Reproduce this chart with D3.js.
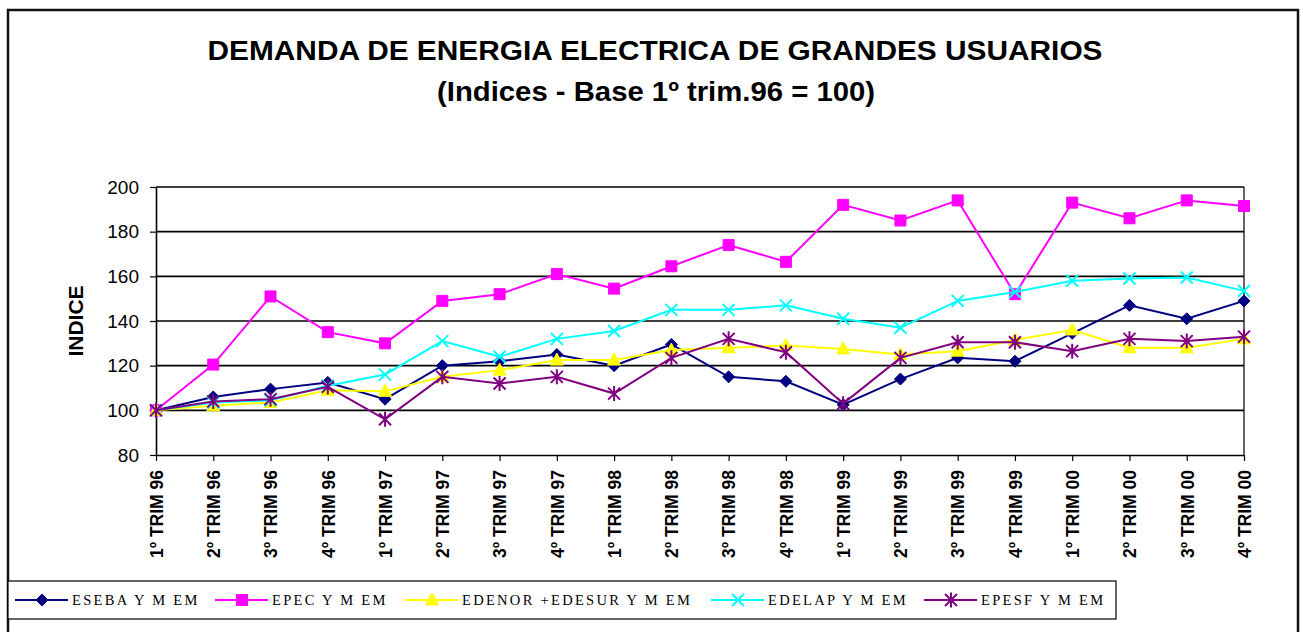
<!DOCTYPE html>
<html>
<head>
<meta charset="utf-8">
<script src="https://cdn.jsdelivr.net/npm/d3@7"></script>
<style>
  html, body { margin: 0; padding: 0; background: #fff; }
  svg { display: block; }
</style>
</head>
<body>
<svg id="chart" width="1303" height="632"></svg>
<script>
// ---- Data ----
const categories = [
  "1º TRIM 96", "2º TRIM 96", "3º TRIM 96", "4º TRIM 96",
  "1º TRIM 97", "2º TRIM 97", "3º TRIM 97", "4º TRIM 97",
  "1º TRIM 98", "2º TRIM 98", "3º TRIM 98", "4º TRIM 98",
  "1º TRIM 99", "2º TRIM 99", "3º TRIM 99", "4º TRIM 99",
  "1º TRIM 00", "2º TRIM 00", "3º TRIM 00", "4º TRIM 00"
];
const eseba  = [100, 106, 109.5, 112.5, 105, 120, 122, 125, 120, 129.5, 115, 113, 102.5, 114, 123.5, 122, 134.5, 147, 141, 149];
const epec   = [100, 120.5, 151, 135, 130, 149, 152, 161, 154.5, 164.5, 174, 166.5, 192, 185, 194, 152, 193, 186, 194, 191.5];
const edenor = [100, 102, 103.5, 109, 108.5, 115, 118, 122.5, 122.5, 127, 128, 129, 127.5, 125, 126.5, 131.5, 136, 128, 128, 132];
const edelap = [100, 103.5, 104.5, 111, 116, 131, 124, 132, 135.5, 145, 145, 147, 141, 137, 149, 153, 158, 159, 159.5, 153.5];
const epesf  = [100, 104, 105, 110.5, 96, 115, 112, 115, 107.5, 123.5, 132, 126, 103, 123.5, 130.5, 130.5, 126.5, 132, 131, 133];
const seriesNames = ["ESEBA Y M EM", "EPEC Y M EM", "EDENOR +EDESUR Y M EM", "EDELAP Y M EM", "EPESF Y M EM"];
const yTicks = [80, 100, 120, 140, 160, 180, 200];
const titleLine1 = "DEMANDA DE ENERGIA ELECTRICA  DE GRANDES USUARIOS";
const titleLine2 = "(Indices - Base 1º trim.96 = 100)";
const yLabel = "INDICE";

// ---- Styles ----
const series = [
  { name: seriesNames[0], values: eseba,  color: "#000080", marker: "diamond" },
  { name: seriesNames[1], values: epec,   color: "#FF00FF", marker: "square" },
  { name: seriesNames[2], values: edenor, color: "#FFFF00", marker: "triangle" },
  { name: seriesNames[3], values: edelap, color: "#00FFFF", marker: "x" },
  { name: seriesNames[4], values: epesf,  color: "#800080", marker: "asterisk" }
];
const markerPaths = {
  diamond: "M0,-6L6,0L0,6L-6,0Z",
  square: "M-5.5,-5.5h11v11h-11Z",
  triangle: "M0,-7L6.5,5L-6.5,5Z",
  x: "M-6,-6L6,6M-6,6L6,-6",
  asterisk: "M-6,-6L6,6M-6,6L6,-6M0,-7.5L0,7.5"
};
const filled = { diamond: true, square: true, triangle: true, x: false, asterisk: false };

const svg = d3.select("#chart");
const font = "'Liberation Sans', Arial, sans-serif";

// outer border
svg.append("rect").attr("x", 8).attr("y", 10).attr("width", 1290).attr("height", 640)
  .attr("fill", "none").attr("stroke", "#111").attr("stroke-width", 2.5);

// title
svg.append("text").attr("x", 655).attr("y", 60).attr("text-anchor", "middle")
  .attr("font-family", font).attr("font-weight", "bold").attr("font-size", 27.5)
  .attr("textLength", 895).attr("lengthAdjust", "spacingAndGlyphs")
  .text(titleLine1);
svg.append("text").attr("x", 656).attr("y", 101).attr("text-anchor", "middle")
  .attr("font-family", font).attr("font-weight", "bold").attr("font-size", 27.5)
  .attr("textLength", 438).attr("lengthAdjust", "spacingAndGlyphs")
  .text(titleLine2);

// scales
const x = d3.scalePoint().domain(categories).range([156, 1244]).padding(0);
const y = d3.scaleLinear().domain([80, 200]).range([455, 187]);

// gridlines
svg.append("g").selectAll("line").data(yTicks.filter(d => d > 80)).join("line")
  .attr("x1", 156).attr("x2", 1244)
  .attr("y1", d => y(d)).attr("y2", d => y(d))
  .attr("stroke", "#000").attr("stroke-width", 1.6);

// right border of plot
svg.append("line").attr("x1", 1244).attr("x2", 1244).attr("y1", y(200)).attr("y2", y(80))
  .attr("stroke", "#000").attr("stroke-width", 1.2);

// y axis
const yAxis = svg.append("g").attr("transform", "translate(156,0)")
  .call(d3.axisLeft(y).tickValues(yTicks).tickSizeInner(6).tickSizeOuter(0).tickPadding(11));
yAxis.selectAll("text").attr("font-family", font).attr("font-size", 19).attr("fill", "#000");
yAxis.select(".domain").attr("stroke", "#000").attr("stroke-width", 1.6);
yAxis.selectAll(".tick line").attr("stroke", "#000").attr("stroke-width", 1.2);

// x axis
const xAxis = svg.append("g").attr("transform", "translate(0,455)")
  .call(d3.axisBottom(x).tickSizeInner(6).tickSizeOuter(0));
xAxis.select(".domain").attr("stroke", "#000").attr("stroke-width", 1.6);
xAxis.selectAll(".tick line").attr("stroke", "#000").attr("stroke-width", 1.2);
xAxis.selectAll("text")
  .attr("transform", "rotate(-90)")
  .attr("x", -15).attr("y", 0).attr("dy", "0.36em")
  .attr("text-anchor", "end")
  .attr("font-family", font).attr("font-weight", "bold").attr("font-size", 17.5).attr("fill", "#000");

// y label
svg.append("text").attr("transform", `translate(83,${(y(80) + y(200)) / 2}) rotate(-90)`)
  .attr("text-anchor", "middle").attr("font-family", font).attr("font-weight", "bold")
  .attr("font-size", 21).text(yLabel);

// series
const line = d3.line().x((d, i) => x(categories[i])).y(d => y(d));
series.forEach(s => {
  const g = svg.append("g");
  g.append("path").attr("d", line(s.values)).attr("fill", "none")
    .attr("stroke", s.color).attr("stroke-width", 2);
  g.selectAll("path.m").data(s.values).join("path").attr("class", "m")
    .attr("transform", (d, i) => `translate(${x(categories[i])},${y(d)})`)
    .attr("d", markerPaths[s.marker])
    .attr("fill", filled[s.marker] ? s.color : "none")
    .attr("stroke", s.color).attr("stroke-width", filled[s.marker] ? 1 : 2);
});

// legend
svg.append("rect").attr("x", 8).attr("y", 581).attr("width", 1108).attr("height", 38)
  .attr("fill", "#fff").attr("stroke", "#000").attr("stroke-width", 1.2);
const legendX = [15, 215, 405, 711, 924];
series.forEach((s, i) => {
  const g = svg.append("g").attr("transform", `translate(${legendX[i]},600)`);
  g.append("line").attr("x1", 0).attr("x2", 53).attr("y1", 0).attr("y2", 0)
    .attr("stroke", s.color).attr("stroke-width", 2);
  g.append("path").attr("transform", "translate(27,0)").attr("d", markerPaths[s.marker])
    .attr("fill", filled[s.marker] ? s.color : "none")
    .attr("stroke", s.color).attr("stroke-width", filled[s.marker] ? 1 : 2);
  g.append("text").attr("x", 57).attr("y", 5).attr("font-family", "'Liberation Serif', 'Times New Roman', serif")
    .attr("font-size", 14.5).attr("letter-spacing", 2.3).attr("fill", "#000").text(s.name);
});
</script>
</body>
</html>
